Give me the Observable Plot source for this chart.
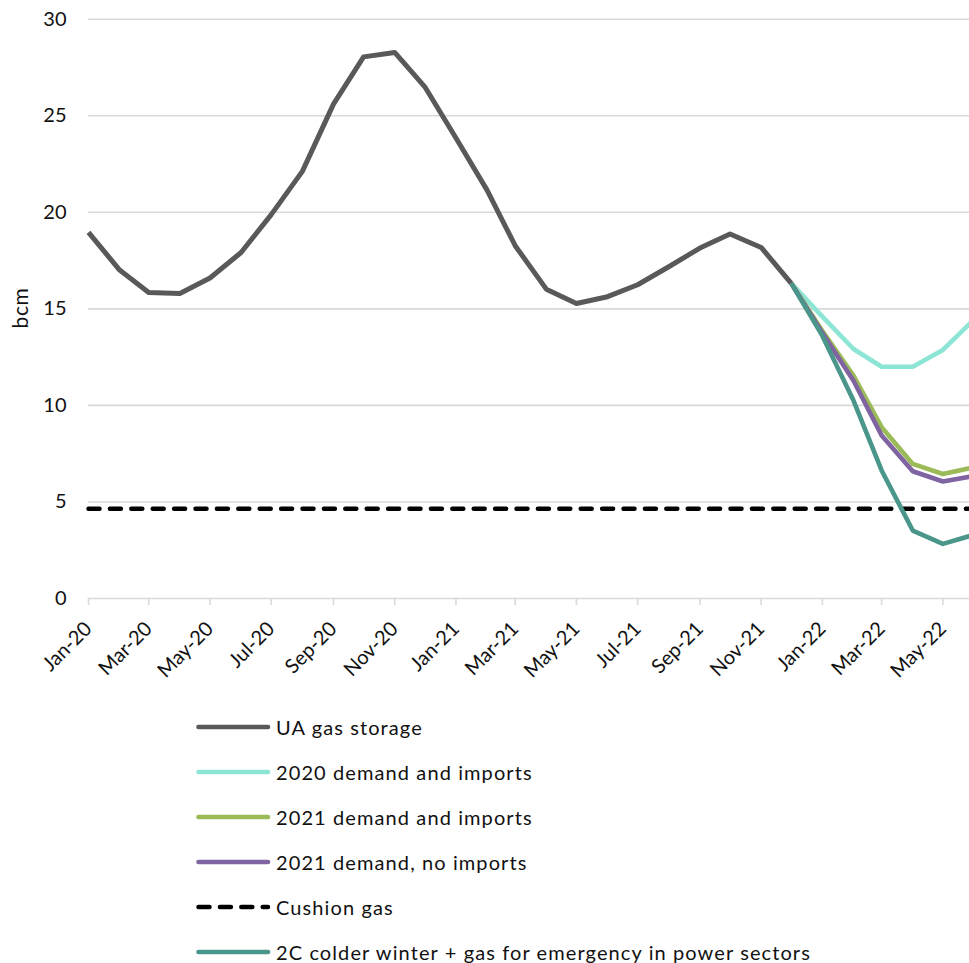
<!DOCTYPE html>
<html>
<head>
<meta charset="utf-8">
<script src="https://cdn.jsdelivr.net/npm/d3@7"></script>
<script src="https://cdn.jsdelivr.net/npm/@observablehq/plot@0.6"></script>
<style>
  html, body { margin: 0; padding: 0; background: #fff; }
  #wrap { position: relative; width: 969px; height: 963px; overflow: hidden; font-family: Lato, "Open Sans", sans-serif; }
  #chart svg { overflow: hidden; }
  #ylabel { position: absolute; left: 19px; top: 308px; transform: translate(-50%, -50%) rotate(-90deg); font-size: 21px; letter-spacing: 0.6px; color: #111; white-space: nowrap; }
  #legend { position: absolute; left: 0; top: 704px; }
  .row { position: absolute; left: 196px; height: 46px; display: flex; align-items: center; white-space: nowrap; font-size: 20px; letter-spacing: 1.1px; color: #111; }
  .row svg { margin-right: 3px; }
</style>
</head>
<body>
<div id="wrap">
  <div id="chart"></div>
  <div id="ylabel">bcm</div>
  <div id="legend"></div>
</div>
<script>
// Monthly stock in Ukrainian gas storage, bcm
const months = [
  "2020-01","2020-02","2020-03","2020-04","2020-05","2020-06",
  "2020-07","2020-08","2020-09","2020-10","2020-11","2020-12",
  "2021-01","2021-02","2021-03","2021-04","2021-05","2021-06",
  "2021-07","2021-08","2021-09","2021-10","2021-11","2021-12",
  "2022-01","2022-02","2022-03","2022-04","2022-05","2022-06"
];

// Observed storage, Jan-20 .. Dec-21
const storage = [
  18.96, 17.01, 15.85, 15.80, 16.60, 17.92,
  19.88, 22.12, 25.60, 28.05, 28.28, 26.50,
  23.85, 21.15, 18.27, 16.02, 15.28, 15.63,
  16.25, 17.18, 18.15, 18.88, 18.18, 16.32
];

// Scenario outlooks, Dec-21 .. Jun-22
const scenarioMonths = months.slice(23);
const demand2020 = [16.32, 14.60, 12.92, 12.00, 12.00, 12.87, 14.45];
const demand2021 = [16.32, 13.85, 11.54, 8.87, 6.97, 6.45, 6.80];
const demand2021NoImports = [16.32, 13.75, 11.28, 8.44, 6.59, 6.06, 6.34];
const colderWinter = [16.32, 13.60, 10.25, 6.63, 3.52, 2.83, 3.30];

// Cushion gas level
const cushionGas = 4.65;

const yTicks = [0, 5, 10, 15, 20, 25, 30];

const seriesNames = [
  "UA gas storage",
  "2020 demand and imports",
  "2021 demand and imports",
  "2021 demand, no imports",
  "Cushion gas",
  "2C colder winter + gas for emergency in power sectors"
];
const seriesColors = ["#595959", "#8de5d6", "#9bbb59", "#8064a2", "#000000", "#4a968a"];

const parse = d3.utcParse("%Y-%m");
const toRows = (ms, vals) => ms.map((m, i) => ({date: parse(m), value: vals[i]}));

const storageRows = toRows(months.slice(0, storage.length), storage);
const scenarios = [
  {name: seriesNames[1], rows: toRows(scenarioMonths, demand2020), color: seriesColors[1]},
  {name: seriesNames[2], rows: toRows(scenarioMonths, demand2021), color: seriesColors[2]},
  {name: seriesNames[3], rows: toRows(scenarioMonths, demand2021NoImports), color: seriesColors[3]},
  {name: seriesNames[5], rows: toRows(scenarioMonths, colderWinter), color: seriesColors[5]}
];
const cushionRows = [
  {date: parse(months[0]), value: cushionGas},
  {date: parse(months[months.length - 1]), value: cushionGas}
];

const lineStyle = {x: "date", y: "value", strokeWidth: 4.6, strokeLinejoin: "round", strokeLinecap: "butt"};

const chart = Plot.plot({
  width: 969,
  height: 704,
  marginLeft: 88,
  marginRight: 0,
  marginTop: 19,
  marginBottom: 106,
  style: {fontFamily: "Lato, 'Open Sans', sans-serif", fontSize: "20px", color: "#111", background: "#fff"},
  x: {type: "utc", domain: [parse(months[0]), parse(months[months.length - 1])], range: [88, 973.5]},
  y: {domain: [0, 30], range: [598, 18.7]},
  marks: [
    Plot.gridY(yTicks.slice(1), {stroke: "#d9d9d9", strokeOpacity: 1, strokeWidth: 1.6}),
    Plot.ruleY([0], {stroke: "#d9d9d9", strokeWidth: 1.6}),
    Plot.axisX({
      ticks: d3.utcMonth.every(2),
      tickFormat: d3.utcFormat("%b-%y"),
      tickRotate: -45,
      tickSize: 7,
      tickPadding: 20,
      stroke: "#d9d9d9",
      strokeWidth: 1.6,
      strokeOpacity: 1,
      label: null
    }),
    Plot.axisY({
      ticks: yTicks,
      tickSize: 0,
      tickPadding: 22,
      label: null
    }),
    Plot.line(storageRows, {...lineStyle, stroke: seriesColors[0], strokeWidth: 5}),
    ...scenarios.slice(0, 3).map(s => Plot.line(s.rows, {...lineStyle, stroke: s.color})),
    Plot.line(cushionRows, {x: "date", y: "value", stroke: "#000", strokeWidth: 4.5, strokeDasharray: "11,10.4", strokeLinecap: "round"}),
    Plot.line(scenarios[3].rows, {...lineStyle, stroke: scenarios[3].color})
  ]
});
document.getElementById("chart").appendChild(chart);

// Legend: one row per series, stacked below the chart
const legend = d3.select("#legend");
seriesNames.forEach((name, i) => {
  const row = legend.append("div").attr("class", "row").style("top", (i * 45) + "px");
  const sw = row.append("svg").attr("width", 77).attr("height", 10);
  const ln = sw.append("line")
    .attr("x1", 2.5).attr("x2", 72).attr("y1", 5).attr("y2", 5)
    .attr("stroke", seriesColors[i]).attr("stroke-width", 4.6).attr("stroke-linecap", "round");
  if (name === "Cushion gas") ln.attr("stroke-dasharray", "11,10.4").attr("stroke-width", 4.5);
  row.append("span").text(name);
});
</script>
</body>
</html>
